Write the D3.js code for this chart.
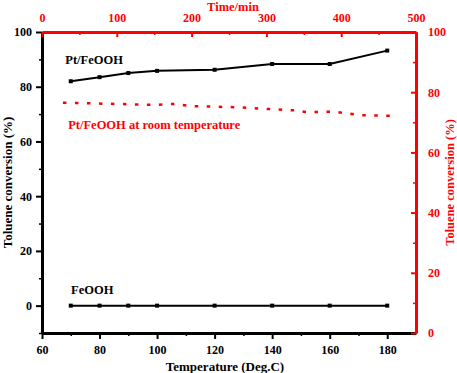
<!DOCTYPE html>
<html>
<head>
<meta charset="utf-8">
<script src="https://cdn.jsdelivr.net/npm/d3@7"></script>
<style>
  body { margin: 0; background: #fff; }
  svg text { font-family: "Liberation Serif", "Times New Roman", serif; font-weight: 700; }
</style>
</head>
<body>
<div id="chart"></div>
<script>
// temperature series (bottom / left axes)
const temps = [70, 80, 90, 100, 120, 140, 160, 180];
const ptFeOOH = [82.0, 83.5, 85.0, 85.8, 86.2, 88.3, 88.3, 93.2];
const feOOH = [0, 0, 0, 0, 0, 0, 0, 0];

// room temperature series (top / right axes)
const times = [28, 150, 178, 198, 260, 342, 352, 392, 425, 476];
const roomTemp = [76.5, 75.8, 76.1, 75.4, 75.0, 73.9, 73.4, 73.5, 72.4, 72.1];

const bottomTicks = [60, 80, 100, 120, 140, 160, 180];
const leftTicks = [0, 20, 40, 60, 80, 100];
const topTicks = [0, 100, 200, 300, 400, 500];
const rightTicks = [0, 20, 40, 60, 80, 100];

const margin = { top: 32, right: 41, bottom: 40, left: 42 },
  width = 457 - margin.left - margin.right,
  height = 373 - margin.top - margin.bottom;

const svg = d3.select("#chart")
  .append("svg")
  .attr("width", 457)
  .attr("height", 373)
  .append("g")
  .attr("transform", `translate(${margin.left},${margin.top})`);

const x = d3.scaleLinear().domain([60, 190]).range([0, width]);
const y = d3.scaleLinear().domain([-10, 100]).range([height, 0]);
const xTop = d3.scaleLinear().domain([0, 500]).range([0, width]);
const yRight = d3.scaleLinear().domain([0, 100]).range([height, 0]);

const red = "#ff0000";

function styleAxis(g, color, fontSize) {
  g.select(".domain").attr("stroke", color).attr("stroke-width", 3);
  g.selectAll(".tick line").attr("stroke", color).attr("stroke-width", 2);
  g.selectAll(".tick text").attr("fill", color).style("font-size", fontSize + "px");
}

// minor ticks (no labels)
function minor(axis, vals, g) {
  g.call(axis.tickValues(vals).tickFormat(""))
    .call(a => a.select(".domain").remove())
    .selectAll(".tick line").attr("stroke-width", 1.5);
}

// black axes
const gBottomMinor = svg.append("g").attr("transform", `translate(0,${height})`);
minor(d3.axisBottom(x).tickSize(3), [70, 90, 110, 130, 150, 170], gBottomMinor);
const gLeftMinor = svg.append("g");
minor(d3.axisLeft(y).tickSize(3), [-10, 10, 30, 50, 70, 90], gLeftMinor);

svg.append("g")
  .attr("transform", `translate(0,${height})`)
  .call(d3.axisBottom(x).tickValues(bottomTicks).tickSize(6).tickSizeOuter(0).tickPadding(6))
  .call(g => styleAxis(g, "#000", 12));

svg.append("g")
  .call(d3.axisLeft(y).tickValues(leftTicks).tickSize(6).tickSizeOuter(0).tickPadding(4))
  .call(g => styleAxis(g, "#000", 12));

// red axes
const gTopMinor = svg.append("g");
minor(d3.axisTop(xTop).tickSize(-3), [50, 150, 250, 350, 450], gTopMinor);
gTopMinor.selectAll(".tick line").attr("stroke", red);
const gRightMinor = svg.append("g").attr("transform", `translate(${width},0)`);
minor(d3.axisRight(yRight).tickSize(-3), [10, 30, 50, 70, 90], gRightMinor);
gRightMinor.selectAll(".tick line").attr("stroke", red);

svg.append("g")
  .call(d3.axisTop(xTop).tickValues(topTicks).tickSize(-5).tickSizeOuter(0).tickPadding(10))
  .call(g => styleAxis(g, red, 12));

svg.append("g")
  .attr("transform", `translate(${width},0)`)
  .call(d3.axisRight(yRight).tickValues(rightTicks).tickSize(-5).tickSizeOuter(0).tickPadding(12))
  .call(g => styleAxis(g, red, 12));

// black series
const line = d3.line().x((d, i) => x(temps[i])).y(d => y(d));

[ptFeOOH, feOOH].forEach(series => {
  svg.append("path")
    .datum(series)
    .attr("fill", "none")
    .attr("stroke", "#000")
    .attr("stroke-width", 2)
    .attr("d", line);

  svg.append("g")
    .selectAll("rect")
    .data(series)
    .join("rect")
    .attr("x", (d, i) => x(temps[i]) - 2)
    .attr("y", d => y(d) - 2)
    .attr("width", 4)
    .attr("height", 4)
    .attr("fill", "#000");
});

// red dashed series
const redLine = d3.line().x((d, i) => xTop(times[i])).y(d => yRight(d));
svg.append("path")
  .datum(roomTemp)
  .attr("fill", "none")
  .attr("stroke", red)
  .attr("stroke-width", 2.5)
  .attr("stroke-dasharray", "3.5,8.5")
  .attr("d", redLine);

// series labels
svg.append("text")
  .attr("x", x(68.1))
  .attr("y", y(88.4))
  .style("font-size", "12.5px")
  .text("Pt/FeOOH");

svg.append("text")
  .attr("x", x(69.1))
  .attr("y", y(64.7))
  .attr("fill", red)
  .style("font-size", "12.5px")
  .text("Pt/FeOOH at room temperature");

svg.append("text")
  .attr("x", x(70.1))
  .attr("y", y(4.3))
  .style("font-size", "12.5px")
  .text("FeOOH");

// axis titles
svg.append("text")
  .attr("text-anchor", "middle")
  .attr("x", width / 2 - 4)
  .attr("y", height + 38)
  .style("font-size", "13px")
  .text("Temperature (Deg.C)");

svg.append("text")
  .attr("text-anchor", "middle")
  .attr("x", width / 2 + 4)
  .attr("y", -21.5)
  .attr("fill", red)
  .style("font-size", "12.5px")
  .text("Time/min");

svg.append("text")
  .attr("text-anchor", "middle")
  .attr("transform", "rotate(-90)")
  .attr("x", -height / 2)
  .attr("y", -30)
  .style("font-size", "13px")
  .text("Toluene conversion (%)");

svg.append("text")
  .attr("text-anchor", "middle")
  .attr("transform", "rotate(-90)")
  .attr("x", -height / 2)
  .attr("y", width + 38)
  .attr("fill", red)
  .style("font-size", "12.5px")
  .text("Toluene conversion (%)");
</script>
</body>
</html>
